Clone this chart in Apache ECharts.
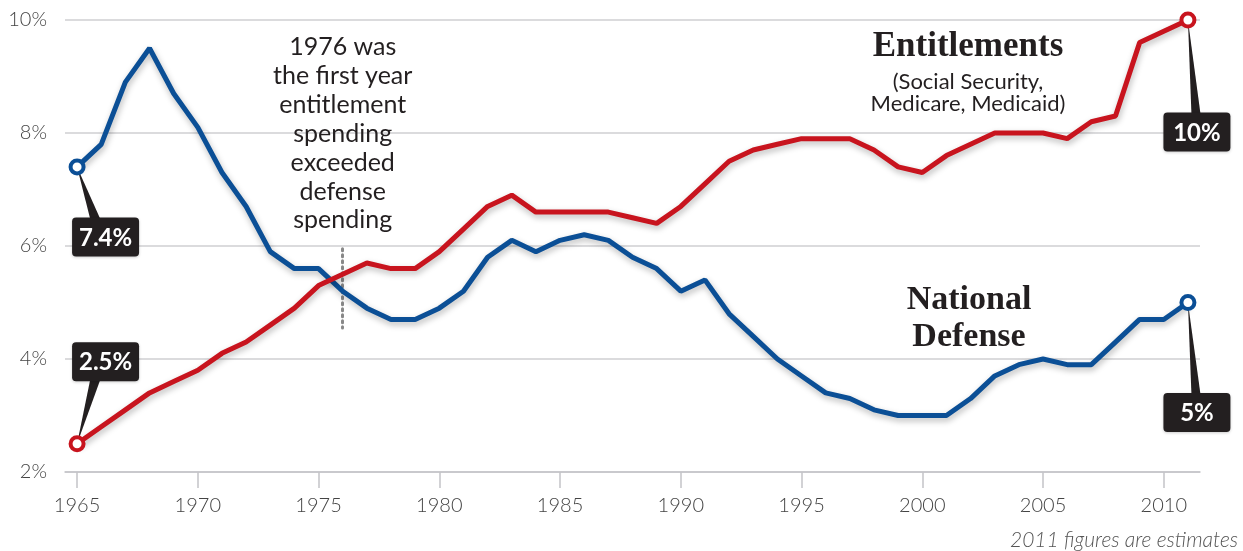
<!DOCTYPE html>
<html><head><meta charset="utf-8">
<script src="https://cdn.jsdelivr.net/npm/echarts@6/dist/echarts.min.js"></script>
<style>html,body{margin:0;padding:0;background:#fff}#c{width:1243px;height:551px}</style>
</head><body><div id="c"></div>
<script>
const years = [1965,1966,1967,1968,1969,1970,1971,1972,1973,1974,1975,1976,1977,1978,1979,1980,1981,1982,1983,1984,1985,1986,1987,1988,1989,1990,1991,1992,1993,1994,1995,1996,1997,1998,1999,2000,2001,2002,2003,2004,2005,2006,2007,2008,2009,2010,2011];
const defense = [7.4,7.8,8.9,9.5,8.7,8.1,7.3,6.7,5.9,5.6,5.6,5.2,4.9,4.7,4.7,4.9,5.2,5.8,6.1,5.9,6.1,6.2,6.1,5.8,5.6,5.2,5.4,4.8,4.4,4.0,3.7,3.4,3.3,3.1,3.0,3.0,3.0,3.3,3.7,3.9,4.0,3.9,3.9,4.3,4.7,4.7,5.0];
const entitlements = [2.5,2.8,3.1,3.4,3.6,3.8,4.1,4.3,4.6,4.9,5.3,5.5,5.7,5.6,5.6,5.9,6.3,6.7,6.9,6.6,6.6,6.6,6.6,6.5,6.4,6.7,7.1,7.5,7.7,7.8,7.9,7.9,7.9,7.7,7.4,7.3,7.6,7.8,8.0,8.0,8.0,7.9,8.2,8.3,9.6,9.8,10.0];
const xTicks = [1965,1970,1975,1980,1985,1990,1995,2000,2005,2010];
const yTicks = [2,4,6,8,10];
const noteLines = ['1976 was','the first year','entitlement','spending','exceeded','defense','spending'];
const noteYear = 1976;
const noteRange = [5.95, 4.55];

const BLUE = '#0b4f96', RED = '#c8141e', DARK = '#231f20';
const sans = 'Lato, "Open Sans", sans-serif';
const serif = '"Liberation Serif", "DejaVu Serif", serif';

const chart = echarts.init(document.getElementById('c'));
const lastIdx = years.length - 1;
function mk(vals){ return vals.map((v,i)=>[years[i], v]); }
function symSize(v, p){ return (p.dataIndex === 0 || p.dataIndex === lastIdx) ? 13 : 0; }
function lineSeries(name, vals, color){
  return {
    name, type:'line', data: mk(vals), showSymbol:true, showAllSymbol:true,
    symbol:'circle', symbolSize: symSize, z:5,
    itemStyle:{color:'#fff', borderColor:color, borderWidth:4},
    lineStyle:{color, width:5, shadowColor:'rgba(0,0,0,0.28)', shadowBlur:6, shadowOffsetY:3, shadowOffsetX:1},
    emphasis:{disabled:true}, animation:false
  };
}
const option = {
  animation:false,
  grid:{left:65, right:43, top:20, bottom:79},
  xAxis:{type:'value', min:1964.5, max:2011.5,
    axisLine:{show:true, lineStyle:{color:'#c4c4c8', width:1.5}},
    axisTick:{show:true, customValues:xTicks, length:16, lineStyle:{color:'#c4c4c8', width:1.5}},
    axisLabel:{customValues:xTicks, formatter:v=>String(v), margin:24, color:'#444', fontFamily:sans, fontSize:20, fontWeight:300},
    splitLine:{show:false}},
  yAxis:{type:'value', min:2, max:10, interval:2,
    axisLine:{show:false}, axisTick:{show:false},
    axisLabel:{formatter:'{value}%', margin:18, color:'#444', fontFamily:sans, fontSize:20, fontWeight:300},
    splitLine:{lineStyle:{color:'#cfcfd2', width:1.5}}},
  series:[
    lineSeries('National Defense', defense, BLUE),
    Object.assign(lineSeries('Entitlements', entitlements, RED), {
      markLine:{silent:true, symbol:'none', animation:false,
        lineStyle:{color:'#888', type:[2,4], width:3, cap:'round'}, label:{show:false},
        data:[[{coord:[noteYear, noteRange[0]]},{coord:[noteYear, noteRange[1]]}]]}
    })
  ]
};
chart.setOption(option);

function callout(xv, yv, label, dx, dy, baseSide, baseX0, baseX1){
  const [px, py] = chart.convertToPixel({gridIndex:0}, [xv, yv]);
  const w = 67, h = 39;
  const cx = px + dx, cy = py + dy;
  const left = cx - w/2, top = cy - h/2;
  const by = baseSide === 'top' ? top + 1 : top + h - 1;
  return [
    {type:'polygon', z:1, shape:{points:[[px,py],[left+baseX0,by],[left+baseX1,by]]}, style:{fill:DARK}},
    {type:'rect', z:1, shape:{x:left, y:top, width:w, height:h, r:4}, style:{fill:DARK, shadowColor:'rgba(0,0,0,0.2)', shadowBlur:3, shadowOffsetY:1}},
    {type:'text', z:2, x:cx, y:cy+1, style:{text:label, fill:'#fff', font:'bold 24px '+sans, align:'center', verticalAlign:'middle'}}
  ];
}
const noteX = chart.convertToPixel({gridIndex:0}, [noteYear, 2])[0];
const graphics = [].concat(
  callout(years[0], defense[0], defense[0] + '%', 28.5, 70, 'top', 18, 28),
  callout(years[0], entitlements[0], entitlements[0] + '%', 28.5, -82, 'bottom', 18, 28),
  callout(years[lastIdx], entitlements[lastIdx], entitlements[lastIdx] + '%', 9, 112, 'top', 28, 37),
  callout(years[lastIdx], defense[lastIdx], defense[lastIdx] + '%', 9, 110, 'top', 28, 37),
  noteLines.map((t,i)=>({type:'text', x:noteX, y:47 + i*28.9, style:{text:t, fill:DARK, font:'25px '+sans, align:'center', verticalAlign:'middle'}})),
  [
    {type:'text', x:968, y:47, style:{text:'Entitlements', fill:DARK, font:'bold 35px '+serif, align:'center', verticalAlign:'middle'}},
    {type:'text', x:968, y:82, style:{text:'(Social Security,', fill:DARK, font:'22px '+sans, align:'center', verticalAlign:'middle'}},
    {type:'text', x:968, y:104, style:{text:'Medicare, Medicaid)', fill:DARK, font:'22px '+sans, align:'center', verticalAlign:'middle'}},
    {type:'text', x:969, y:300, style:{text:'National', fill:DARK, font:'bold 34px '+serif, align:'center', verticalAlign:'middle'}},
    {type:'text', x:969, y:337, style:{text:'Defense', fill:DARK, font:'bold 34px '+serif, align:'center', verticalAlign:'middle'}},
    {type:'text', x:1238, y:540, style:{text:'2011 figures are estimates', fill:'#555', font:'italic 300 21px '+sans, align:'right', verticalAlign:'middle'}}
  ]
);
chart.setOption({graphic:graphics});
</script></body></html>
